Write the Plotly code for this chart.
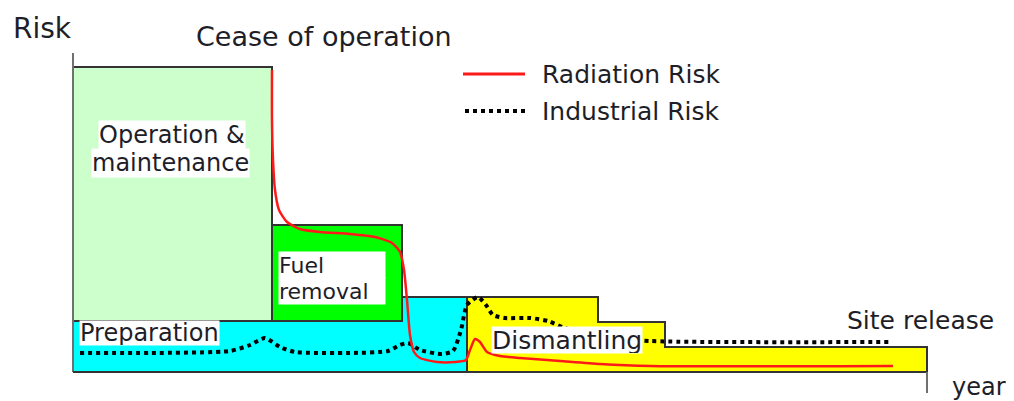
import plotly.graph_objects as go

# --- Phase outlines (x = years, y = risk level) ---
op_x = [0, 0, 19.9, 19.9, 0]
op_y = [5.1, 30.5, 30.5, 5.1, 5.1]

fuel_x = [19.9, 19.9, 32.9, 32.9, 19.9]
fuel_y = [5.1, 14.7, 14.7, 5.1, 5.1]

prep_x = [0, 0, 32.9, 32.9, 39.4, 39.4, 0]
prep_y = [0, 5.1, 5.1, 7.5, 7.5, 0, 0]

dism_x = [39.4, 39.4, 52.5, 52.5, 59.2, 59.2, 85.4, 85.4, 39.4]
dism_y = [0, 7.5, 7.5, 5.0, 5.0, 2.5, 2.5, 0, 0]

# --- Risk curves ---
rad_x = [19.9, 19.9, 20.0, 20.2, 20.6, 21.4, 22.7, 24.7, 27.7, 30.2, 31.9, 32.7,
         33.1, 33.4, 33.7, 34.1, 34.7, 36.4, 38.2, 39.3, 39.7, 40.2, 40.7, 41.4,
         42.7, 44.7, 48.7, 52.7, 57.7, 82.0]
rad_y = [30.2, 25.2, 21.2, 18.2, 16.2, 15.0, 14.3, 14.0, 13.8, 13.5, 12.9, 12.0,
         10.2, 7.2, 3.7, 2.0, 1.4, 1.0, 1.0, 1.2, 2.2, 3.3, 3.0, 2.0,
         1.6, 1.4, 1.1, 0.8, 0.6, 0.6]

ind_x = [0.7, 7.7, 15.7, 17.7, 19.2, 20.7, 22.2, 27.7, 31.5, 32.7, 33.5, 34.7,
         36.9, 38.0, 38.8, 39.4, 40.5, 41.3, 42.0, 43.2, 45.7, 47.5, 49.2, 52.7,
         57.7, 81.9]
ind_y = [1.9, 1.9, 2.1, 2.7, 3.4, 2.5, 2.0, 1.9, 2.1, 2.7, 2.9, 2.2,
         1.8, 2.1, 4.2, 6.7, 7.5, 6.7, 5.7, 5.4, 5.4, 5.1, 4.4, 3.6,
         3.1, 3.0]

series_names = ["Radiation Risk", "Industrial Risk"]

# --- Styles ---
edge = "#333333"
axis_col = "#707070"
txt = "#1e1e28"
font_family = "DejaVu Sans, Verdana, sans-serif"

fig = go.Figure()

def add_phase(xs, ys, color):
    fig.add_trace(go.Scatter(
        x=xs, y=ys, mode="lines", fill="toself", fillcolor=color,
        line=dict(color=edge, width=2), hoverinfo="skip", showlegend=False
    ))

add_phase(prep_x, prep_y, "#00ffff")
add_phase(dism_x, dism_y, "#ffff00")
add_phase(op_x, op_y, "#ccffcc")
add_phase(fuel_x, fuel_y, "#00ff00")

fig.add_trace(go.Scatter(
    x=ind_x, y=ind_y, mode="lines", name=series_names[1],
    line=dict(color="black", width=4, dash="dot", shape="spline", smoothing=0.6),
    hoverinfo="skip", showlegend=False
))
fig.add_trace(go.Scatter(
    x=rad_x, y=rad_y, mode="lines", name=series_names[0],
    line=dict(color="#ff1a1a", width=2.5, shape="spline", smoothing=0.6),
    hoverinfo="skip", showlegend=False
))

# --- Axes drawn by hand ---
fig.add_shape(type="line", x0=0, y0=0, x1=0, y1=31.9, line=dict(color=axis_col, width=2))
fig.add_shape(type="line", x0=0, y0=0, x1=85.4, y1=0, line=dict(color=edge, width=2))
fig.add_shape(type="line", x0=85.4, y0=0, x1=85.4, y1=-2.1, line=dict(color=axis_col, width=2))

# --- Legend samples ---
fig.add_shape(type="line", x0=39.0, y0=29.8, x1=45.2, y1=29.8, line=dict(color="#ff1a1a", width=3))
fig.add_shape(type="line", x0=39.2, y0=26.1, x1=45.4, y1=26.1, line=dict(color="black", width=4, dash="dot"))

def label(x, y, text, size=25, anchor="left", bg=None, h=None, w=None):
    fig.add_annotation(
        x=x, y=y, text=text, showarrow=False, xanchor=anchor, yanchor="middle",
        font=dict(family=font_family, size=size, color=txt),
        bgcolor=bg, borderpad=0, height=h, width=w, align="left" if w else "center"
    )

label(-3.1, 34.4, "Risk", size=28, anchor="center")
label(25.1, 33.6, "Cease of operation", size=27, anchor="center")
label(46.8, 29.8, series_names[0])
label(46.8, 26.1, series_names[1])
label(9.9, 23.7, "Operation &", size=24, anchor="center", bg="white", h=28)
label(9.7, 20.9, "maintenance", size=24, anchor="center", bg="white", h=28)
label(20.5, 10.7, "Fuel", size=22, bg="white", h=26, w=106)
label(20.5, 8.1, "removal", size=22, bg="white", h=26, w=106)
label(0.6, 3.9, "Preparation", size=24, bg="white", h=24)
label(41.8, 3.2, "Dismantling", size=25, bg="white", h=26)
label(84.7, 5.2, "Site release", anchor="center")
label(87.8, -1.5, "year", size=24)

# page body has an 8px margin, so ranges are offset by 8px to line up
fig.update_layout(
    width=1014, height=401,
    margin=dict(l=0, r=0, t=0, b=0),
    xaxis=dict(range=[-6.5, 94.9], visible=False, fixedrange=True),
    yaxis=dict(range=[-3.7, 36.4], visible=False, fixedrange=True),
    plot_bgcolor="white", paper_bgcolor="white",
)

fig.write_html("out.html")
